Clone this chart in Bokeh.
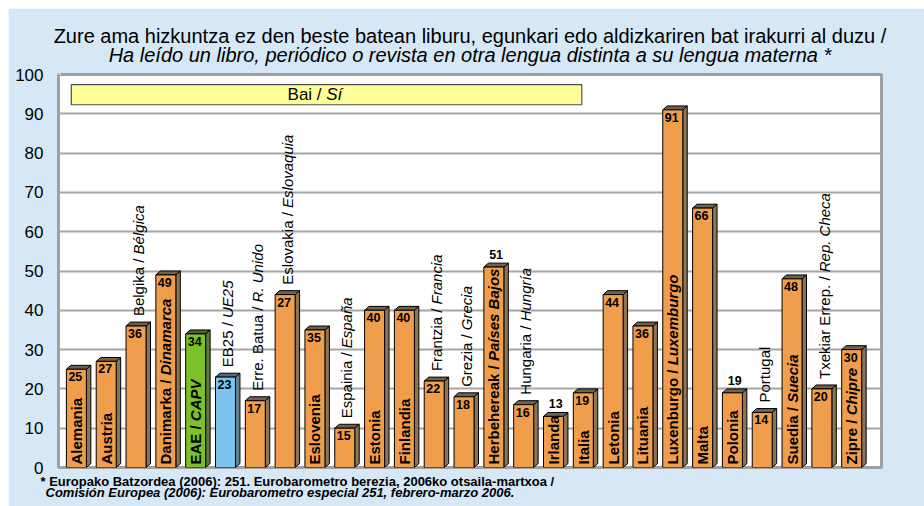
import numpy as np
from bokeh.plotting import figure
from bokeh.models import ColumnDataSource, Range1d, Title, SingleIntervalTicker
from bokeh.core.properties import value
from bokeh.embed import file_html
from bokeh.resources import INLINE

# ---------------- data ----------------
names_eu = ["Alemania", "Austria", "Belgika", "Danimarka", "EAE", "EB25", "Erre. Batua",
            "Eslovakia", "Eslovenia", "Espainia", "Estonia", "Finlandia", "Frantzia", "Grezia",
            "Herbehereak", "Hungaria", "Irlanda", "Italia", "Letonia", "Lituania", "Luxenburgo",
            "Malta", "Polonia", "Portugal", "Suedia", "Txekiar Errep.", "Zipre"]
names_es = ["", "", "Bélgica", "Dinamarca", "CAPV", "UE25", "R. Unido",
            "Eslovaquia", "", "España", "", "", "Francia", "Grecia",
            "Países Bajos", "Hungría", "", "", "", "", "Luxemburgo",
            "", "", "", "Suecia", "Rep. Checa", "Chipre"]
heights = [25, 27, 36, 49, 34, 23, 17, 44, 35, 10, 40, 40, 22, 18, 51, 16, 13, 19, 44, 36, 91,
           66, 19, 14, 48, 20, 30]
value_labels = ["25", "27", "36", "49", "34", "23", "17", "27", "35", "15", "40", "40", "22", "18",
                "51", "16", "13", "19", "44", "36", "91", "66", "19", "14", "48", "20", "30"]
name_inside = [1, 1, 0, 1, 1, 0, 0, 0, 1, 0, 1, 1, 0, 0, 1, 0, 1, 1, 1, 1, 1, 1, 1, 0, 1, 0, 1]
value_above = [0, 0, 0, 0, 0, 0, 0, 0, 0, 0, 0, 0, 0, 0, 1, 0, 1, 0, 0, 0, 0, 0, 1, 0, 0, 0, 0]
bar_group = ["eu"] * 4 + ["capv", "ue25"] + ["eu"] * 21
y_ticks = list(range(0, 101, 10))

title_1 = "Zure ama hizkuntza ez den beste batean liburu, egunkari edo aldizkariren bat irakurri al duzu /"
title_2 = "Ha leído un libro, periódico o revista en otra lengua distinta a su lengua materna *"
legend_eu = "Bai / "
legend_es = "Sí"
note_1 = "* Europako Batzordea (2006): 251. Eurobarometro berezia, 2006ko otsaila-martxoa /"
note_2 = "Comisión Europea (2006): Eurobarometro especial 251, febrero-marzo 2006."

# ---------------- styles ----------------
FONT = "Liberation Sans"
PANEL = "#D6E7F5"
COLORS = {"eu": ("#F09E4B", "#8C7556", "#6F6250"),
          "capv": ("#7CC02A", "#607A3E", "#4F6334"),
          "ue25": ("#7CC3F0", "#62808F", "#53697A")}
HALF = 0.335   # half width of front face (category units)
DX = 0.15      # depth offset x
DY = 1.0       # depth offset y

# Arial / Liberation Sans advance widths (1/1000 em)
_REG = dict(zip("abcdefghijklmnopqrstuvwxyz",
                [556, 556, 500, 556, 556, 278, 556, 556, 222, 222, 500, 222, 833, 556, 556, 556, 556,
                 333, 500, 278, 556, 500, 722, 500, 500, 500]))
_REG.update(zip("ABCDEFGHIJKLMNOPQRSTUVWXYZ",
                [667, 667, 722, 722, 667, 611, 778, 722, 278, 500, 667, 556, 833, 722, 778, 667, 778,
                 722, 667, 611, 722, 667, 944, 667, 667, 611]))
_REG.update({" ": 278, "/": 278, ".": 278, ",": 278, "í": 278, "á": 556, "é": 556, "ó": 556, "ñ": 556})
_BOLD = dict(zip("abcdefghijklmnopqrstuvwxyz",
                 [556, 611, 556, 611, 556, 333, 611, 611, 278, 278, 556, 278, 889, 611, 611, 611, 611,
                  389, 556, 333, 611, 556, 778, 556, 556, 500]))
_BOLD.update(zip("ABCDEFGHIJKLMNOPQRSTUVWXYZ",
                 [722, 722, 722, 722, 667, 611, 778, 722, 278, 556, 722, 611, 833, 722, 778, 667, 778,
                  722, 667, 611, 722, 667, 944, 667, 667, 611]))
_BOLD.update({" ": 278, "/": 278, ".": 278, ",": 278, "í": 278, "á": 556, "é": 556, "ó": 556, "ñ": 611})


def text_width(s, size, bold=False):
    t = _BOLD if bold else _REG
    return sum(t.get(c, 556) for c in s) * size / 1000.0


def spacer(gap):
    # a title in the panel colour, used only to reserve vertical space
    return Title(text=".", text_font_size="10px", text_color=PANEL, standoff=gap)


# ---------------- figure ----------------
p = figure(width=916, height=498, x_range=Range1d(-0.6, 27.0), y_range=Range1d(0, 100),
           output_backend="svg", toolbar_location=None, x_axis_location=None,
           min_border_left=50, min_border_right=43, min_border_top=66, min_border_bottom=39)
p.margin = (8, 0, 0, 8)
p.border_fill_color = PANEL
p.background_fill_color = "white"
p.outline_line_color = "#A0A0A0"
p.outline_line_width = 3

p.yaxis.ticker = SingleIntervalTicker(interval=10)
p.yaxis.axis_line_color = None
p.yaxis.major_tick_line_color = None
p.yaxis.minor_tick_line_color = None
p.yaxis.major_label_text_font = FONT
p.yaxis.major_label_text_font_size = "17px"
p.yaxis.major_label_text_color = "black"
p.yaxis.major_label_standoff = 9
p.ygrid.ticker = SingleIntervalTicker(interval=10)
p.ygrid.grid_line_color = "#A6A6A6"
p.ygrid.grid_line_width = 2
p.xgrid.grid_line_color = None

# titles: spacer nearest the plot, then line 2, the figure title (line 1) outermost
p.title.text = title_1
p.title.align = "center"
p.title.text_font = FONT
p.title.text_font_size = "20px"
p.title.text_font_style = "normal"
p.title.text_color = "black"
p.title.standoff = -10
p.add_layout(spacer(-1), "above")
p.add_layout(Title(text=title_2, align="center", text_font=FONT, text_font_size="20px",
                   text_font_style="italic", text_color="black", standoff=0), "above")
# footnote: below list runs from the plot outward
p.add_layout(spacer(-6.5), "below")
p.add_layout(Title(text=note_1, align="left", offset=-18, text_font=FONT, text_font_size="13px",
                   text_font_style="bold", text_color="black", standoff=0), "below")
p.add_layout(Title(text=note_2, align="left", offset=-13, text_font=FONT, text_font_size="13px",
                   text_font_style="bold italic", text_color="black", standoff=-11), "below")

# legend box
p.quad(left=[-0.17], right=[16.95], bottom=[92.3], top=[97.4], fill_color="#FFFF99",
       line_color="#505050", line_width=1.2)
LS = 17
wl1 = text_width(legend_eu, LS)
wl2 = text_width(legend_es, LS)
wtot = wl1 + wl2
p.text(x=[8.0], y=[94.85], text=[legend_eu], x_offset=[-wtot / 2], text_align="left",
       text_baseline="middle", text_font=value(FONT), text_font_size=f"{LS}px", text_color="black")
p.text(x=[8.0], y=[94.85], text=[legend_es], x_offset=[-wtot / 2 + wl1], text_align="left",
       text_baseline="middle", text_font=value(FONT), text_font_size=f"{LS}px",
       text_font_style="italic", text_color="black")

# 3D bars
idx = np.arange(len(heights))
front = dict(left=[], right=[], top=[], color=[])
side = dict(xs=[], ys=[], color=[])
topf = dict(xs=[], ys=[], color=[])
for i, h in enumerate(heights):
    fc, sc, tc = COLORS[bar_group[i]]
    l, r = i - HALF, i + HALF
    front["left"].append(l); front["right"].append(r); front["top"].append(h); front["color"].append(fc)
    side["xs"].append([r, r + DX, r + DX, r]); side["ys"].append([0, DY, h + DY, h]); side["color"].append(sc)
    topf["xs"].append([l, l + DX, r + DX, r]); topf["ys"].append([h, h + DY, h + DY, h]); topf["color"].append(tc)

p.patches(xs="xs", ys="ys", fill_color="color", line_color="black", line_width=1,
          source=ColumnDataSource(side))
p.patches(xs="xs", ys="ys", fill_color="color", line_color="black", line_width=1,
          source=ColumnDataSource(topf))
p.quad(left="left", right="right", bottom=0, top="top", fill_color="color", line_color="black",
       line_width=1, source=ColumnDataSource(front))

# country labels (rotated), with italic Spanish part
NS = 15
ins1 = dict(x=[], y=[], text=[], yo=[])
ins2 = dict(x=[], y=[], text=[], yo=[])
out1 = dict(x=[], y=[], text=[], yo=[])
out2 = dict(x=[], y=[], text=[], yo=[])
for i in idx:
    eu, es, h = names_eu[i], names_es[i], heights[i]
    part1 = eu + (" / " if es else "")
    if name_inside[i]:
        base = -3
        ins1["x"].append(i); ins1["y"].append(0); ins1["text"].append(part1); ins1["yo"].append(base)
        if es:
            ins2["x"].append(i); ins2["y"].append(0); ins2["text"].append(es)
            ins2["yo"].append(base - text_width(part1, NS, bold=True))
    else:
        base = -6
        out1["x"].append(i + DX / 2); out1["y"].append(h + DY); out1["text"].append(part1); out1["yo"].append(base)
        if es:
            out2["x"].append(i + DX / 2); out2["y"].append(h + DY); out2["text"].append(es)
            out2["yo"].append(base - text_width(part1, NS, bold=False))

for src, style in ((ins1, "bold"), (ins2, "bold italic"), (out1, "normal"), (out2, "italic")):
    p.text(x="x", y="y", text="text", y_offset="yo", angle=np.pi / 2, text_align="left",
           text_baseline="middle", text_font=value(FONT), text_font_size=f"{NS}px",
           text_font_style=style, text_color="black", source=ColumnDataSource(src))

# value labels
vin = dict(x=[], y=[], text=[])
vout = dict(x=[], y=[], text=[])
for i in idx:
    if value_above[i]:
        vout["x"].append(i + DX / 2); vout["y"].append(heights[i] + DY); vout["text"].append(value_labels[i])
    else:
        vin["x"].append(i - HALF); vin["y"].append(heights[i]); vin["text"].append(value_labels[i])
p.text(x="x", y="y", text="text", x_offset=2, y_offset=3, text_align="left", text_baseline="top",
       text_font=value(FONT), text_font_size="12.5px", text_font_style="bold", text_color="black",
       source=ColumnDataSource(vin))
p.text(x="x", y="y", text="text", y_offset=-4, text_align="center", text_baseline="bottom",
       text_font=value(FONT), text_font_size="12.5px", text_font_style="bold", text_color="black",
       source=ColumnDataSource(vout))

open("out.html", "w").write(file_html(p, INLINE))
